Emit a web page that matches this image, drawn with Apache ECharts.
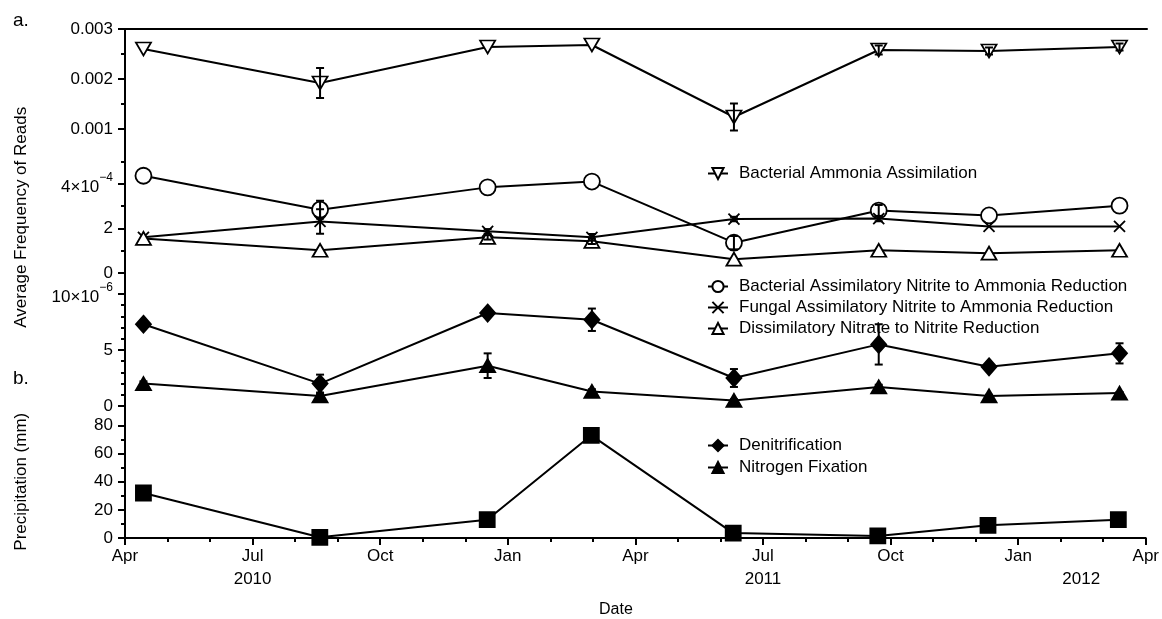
<!DOCTYPE html>
<html>
<head>
<meta charset="utf-8">
<script src="https://cdn.jsdelivr.net/npm/echarts@6/dist/echarts.min.js"></script>
<style>
html, body { margin: 0; padding: 0; background: #fff; }
#chart { width: 1162px; height: 619px; }
</style>
</head>
<body>
<div id="chart"></div>
<script>
const sampleDates = ['2010-04-14', '2010-08-19', '2010-12-17', '2011-02-28', '2011-06-10', '2011-09-22', '2011-12-10', '2012-03-12'];

// a. Average Frequency of Reads
const ammoniaAssim = [0.00260, 0.00192, 0.00264, 0.00268, 0.00124, 0.00258, 0.00256, 0.00264];
const ammoniaAssimErr = [0, 0.0003, 0, 0, 0.00027, 0.00009, 0.00007, 0.00007];

const bactNitrite = [4.36e-4, 2.84e-4, 3.84e-4, 4.1e-4, 1.36e-4, 2.8e-4, 2.58e-4, 3.02e-4];
const bactNitriteErr = [0, 0.4e-4, 0, 0, 0.3e-4, 0.25e-4, 0, 0];
const fungalNitrite = [1.6e-4, 2.31e-4, 1.87e-4, 1.6e-4, 2.42e-4, 2.44e-4, 2.09e-4, 2.09e-4];
const fungalNitriteErr = [0, 0.55e-4, 0.1e-4, 0.15e-4, 0.1e-4, 0.12e-4, 0, 0];
const dissimNitrate = [1.55e-4, 1.02e-4, 1.6e-4, 1.42e-4, 0.62e-4, 1.02e-4, 0.89e-4, 1.02e-4];
const dissimNitrateErr = [0, 0, 0.1e-4, 0.12e-4, 0, 0, 0, 0];

const denitrification = [7.3e-6, 2.0e-6, 8.3e-6, 7.7e-6, 2.5e-6, 5.5e-6, 3.5e-6, 4.7e-6];
const denitrificationErr = [0.2e-6, 0.8e-6, 0.2e-6, 1.0e-6, 0.8e-6, 1.8e-6, 0.3e-6, 0.9e-6];
const nitrogenFix = [2.0e-6, 0.9e-6, 3.6e-6, 1.3e-6, 0.5e-6, 1.7e-6, 0.9e-6, 1.15e-6];
const nitrogenFixErr = [0.2e-6, 0.2e-6, 1.1e-6, 0.2e-6, 0.1e-6, 0.2e-6, 0.1e-6, 0.1e-6];

// b. Precipitation (mm)
const precipitation = [32, 0.5, 13, 73, 3.5, 1.5, 9, 13];

// Etiquetas de ejes
const monthLabels = ['Apr', 'Jul', 'Oct', 'Jan'];
const yearLabels = ['2010', '2011', '2012'];
const yearLabelDates = ['2010-07-01', '2011-07-01', '2012-02-15'];

const FONT = 'Liberation Sans';
const FS = 17;

// Meses transcurridos desde el 1 de abril de 2010
function monthPos(dateStr) {
    const [y, m, d] = dateStr.split('-').map(Number);
    const daysInMonth = new Date(y, m, 0).getDate();
    return (y - 2010) * 12 + (m - 4) + (d - 1) / daysInMonth;
}

const xs = sampleDates.map(monthPos);
const pts = vals => vals.map((v, i) => [xs[i], v]);
const mainY = [0, 2, 4, 6];
const black = { color: '#000', width: 2 };

// Ejes y: principal (etiquetas y marcas largas) y secundario (marcas cortas)
function yMain(g, min, max, labelVals, fmt) {
    return {
        gridIndex: g, type: 'value', position: 'left', min: min, max: max,
        axisLine: { show: true, lineStyle: black },
        axisTick: { show: true, customValues: labelVals, length: 7, lineStyle: black },
        axisLabel: {
            customValues: labelVals, formatter: fmt, margin: 12,
            color: '#000', fontSize: FS, fontFamily: FONT,
            rich: {
                b: { fontSize: FS, fontFamily: FONT, color: '#000', lineHeight: 24, verticalAlign: 'bottom' },
                sup: { fontSize: 12, fontFamily: FONT, color: '#000', lineHeight: 24, verticalAlign: 'top' }
            }
        },
        splitLine: { show: false }
    };
}
function yMinor(g, min, max, tickVals) {
    return {
        gridIndex: g, type: 'value', position: 'left', min: min, max: max,
        axisLine: { show: false },
        axisTick: { show: true, customValues: tickVals, length: 4, lineStyle: black },
        axisLabel: { show: false },
        splitLine: { show: false }
    };
}
function xHidden(g) {
    return { gridIndex: g, type: 'value', min: 0, max: 24, show: false };
}

function lineSeries(name, vals, g, symbol, size, fill, rotate) {
    return {
        name: name, type: 'line', xAxisIndex: g, yAxisIndex: mainY[g],
        data: pts(vals), symbol: symbol, symbolSize: size, symbolRotate: rotate || 0,
        itemStyle: { color: fill, borderColor: '#000', borderWidth: 1.8 },
        lineStyle: { color: '#000', width: 2 },
        emphasis: { disabled: true },
        z: 2
    };
}

function errSeries(vals, errs, g) {
    return {
        type: 'custom', xAxisIndex: g, yAxisIndex: mainY[g], z: 3, silent: true,
        data: vals.map((v, i) => [xs[i], v, errs[i]]),
        encode: { x: 0, y: 1 },
        renderItem: function (params, api) {
            const x = api.value(0), y = api.value(1), e = api.value(2);
            if (!e) return null;
            const top = api.coord([x, y + e]);
            const bot = api.coord([x, y - e]);
            const w = 4;
            const st = { stroke: '#000', lineWidth: 2 };
            return {
                type: 'group',
                children: [
                    { type: 'line', shape: { x1: top[0], y1: top[1], x2: bot[0], y2: bot[1] }, style: st },
                    { type: 'line', shape: { x1: top[0] - w, y1: top[1], x2: top[0] + w, y2: top[1] }, style: st },
                    { type: 'line', shape: { x1: bot[0] - w, y1: bot[1], x2: bot[0] + w, y2: bot[1] }, style: st }
                ]
            };
        }
    };
}

const CROSS = 'path://M0,0L10,10M10,0L0,10';
const legendText = { color: '#000', fontSize: FS, fontFamily: FONT, lineHeight: 17, padding: [0, 0, 0, 6] };

const chart = echarts.init(document.getElementById('chart'));

const option = {
    animation: false,
    backgroundColor: '#fff',
    title: [
        { text: 'a.', left: 8, top: 6, textStyle: { fontSize: 19, fontWeight: 'normal', color: '#000', fontFamily: FONT } },
        { text: 'b.', left: 8, top: 364, textStyle: { fontSize: 19, fontWeight: 'normal', color: '#000', fontFamily: FONT } },
        { text: 'Date', left: 594, top: 597, textStyle: { fontSize: 16, fontWeight: 'normal', color: '#000', fontFamily: FONT } }
    ],
    grid: [
        { left: 125, width: 1022, top: 29, height: 112.5 },
        { left: 125, width: 1022, top: 161.5, height: 111.5 },
        { left: 125, width: 1022, top: 294, height: 112 },
        { left: 125, width: 1022, top: 425.5, height: 112.5 },
        { left: 125, width: 1022, top: 29, height: 509 }
    ],
    xAxis: [
        xHidden(0), xHidden(1), xHidden(2),
        {
            gridIndex: 3, type: 'value', position: 'bottom', min: 0, max: 24, interval: 3,
            axisLine: { show: true, onZero: false, lineStyle: black },
            axisTick: { show: true, length: 7, lineStyle: black },
            minorTick: { show: true, splitNumber: 3, length: 4, lineStyle: black },
            axisLabel: {
                margin: 10, color: '#000', fontSize: FS, fontFamily: FONT,
                formatter: v => monthLabels[Math.round(v / 3) % 4]
            },
            splitLine: { show: false }
        },
        {
            gridIndex: 3, type: 'value', position: 'bottom', min: 0, max: 24,
            axisLine: { show: false }, axisTick: { show: false }, splitLine: { show: false },
            axisLabel: {
                customValues: yearLabelDates.map(monthPos), margin: 33,
                color: '#000', fontSize: FS, fontFamily: FONT,
                formatter: function (v) {
                    const i = yearLabelDates.map(monthPos).findIndex(p => Math.abs(p - v) < 1e-6);
                    return i >= 0 ? yearLabels[i] : '';
                }
            }
        },
        {
            gridIndex: 4, type: 'value', position: 'top', min: 0, max: 24,
            axisLine: { show: true, onZero: false, lineStyle: black },
            axisTick: { show: false }, axisLabel: { show: false }, splitLine: { show: false }
        }
    ],
    yAxis: [
        yMain(0, 0.00075, 0.003, [0.001, 0.002, 0.003], v => v.toFixed(3)),
        yMinor(0, 0.00075, 0.003, [0.0015, 0.0025]),
        Object.assign(yMain(1, 0, 5e-4, [0, 2e-4, 4e-4],
            v => Math.abs(v - 4e-4) < 1e-12 ? '{b|4×10}{sup|−4}' : String(Math.round(v * 1e4))), {
                name: 'Average Frequency of Reads', nameLocation: 'middle', nameGap: 95,
                nameTextStyle: { color: '#000', fontSize: FS, fontFamily: FONT }
            }),
        yMinor(1, 0, 5e-4, [1e-4, 3e-4, 5e-4]),
        yMain(2, 0, 10e-6, [0, 5e-6, 10e-6],
            v => Math.abs(v - 10e-6) < 1e-12 ? '{b|10×10}{sup|−6}' : String(Math.round(v * 1e6))),
        yMinor(2, 0, 10e-6, [1e-6, 2e-6, 3e-6, 4e-6, 6e-6, 7e-6, 8e-6, 9e-6]),
        Object.assign(yMain(3, 0, 80, [0, 20, 40, 60, 80], v => String(v)), {
            name: 'Precipitation (mm)', nameLocation: 'middle', nameGap: 95,
            nameTextStyle: { color: '#000', fontSize: FS, fontFamily: FONT }
        }),
        yMinor(3, 0, 80, [10, 30, 50, 70]),
        {
            gridIndex: 4, type: 'value', position: 'right', min: 0, max: 1,
            axisLine: { show: true, lineStyle: black },
            axisTick: { show: false }, axisLabel: { show: false }, splitLine: { show: false }
        }
    ],
    legend: [
        {
            data: ['Bacterial Ammonia Assimilation'], left: 702, top: 160,
            itemWidth: 20, itemHeight: 14, textStyle: legendText, selectedMode: false
        },
        {
            data: ['Bacterial Assimilatory Nitrite to Ammonia Reduction', 'Fungal Assimilatory Nitrite to Ammonia Reduction', 'Dissimilatory Nitrate to Nitrite Reduction'],
            orient: 'vertical', left: 702, top: 273, itemGap: 4,
            itemWidth: 20, itemHeight: 14, textStyle: legendText, selectedMode: false
        },
        {
            data: ['Denitrification', 'Nitrogen Fixation'],
            orient: 'vertical', left: 702, top: 432, itemGap: 5,
            itemWidth: 20, itemHeight: 14, textStyle: legendText, selectedMode: false
        }
    ],
    series: [
        lineSeries('Bacterial Ammonia Assimilation', ammoniaAssim, 0, 'triangle', [15, 13], '#fff', 180),
        errSeries(ammoniaAssim, ammoniaAssimErr, 0),
        lineSeries('Bacterial Assimilatory Nitrite to Ammonia Reduction', bactNitrite, 1, 'circle', 16, '#fff'),
        lineSeries('Fungal Assimilatory Nitrite to Ammonia Reduction', fungalNitrite, 1, CROSS, 11, '#000'),
        lineSeries('Dissimilatory Nitrate to Nitrite Reduction', dissimNitrate, 1, 'triangle', [15, 13], '#fff'),
        errSeries(bactNitrite, bactNitriteErr, 1),
        errSeries(fungalNitrite, fungalNitriteErr, 1),
        errSeries(dissimNitrate, dissimNitrateErr, 1),
        lineSeries('Denitrification', denitrification, 2, 'diamond', [15, 17], '#000'),
        lineSeries('Nitrogen Fixation', nitrogenFix, 2, 'triangle', [15, 13], '#000'),
        errSeries(denitrification, denitrificationErr, 2),
        errSeries(nitrogenFix, nitrogenFixErr, 2),
        lineSeries('Precipitation', precipitation, 3, 'rect', 15, '#000')
    ]
};

chart.setOption(option);

window.addEventListener('resize', function () {
    chart.resize();
});
</script>
</body>
</html>
